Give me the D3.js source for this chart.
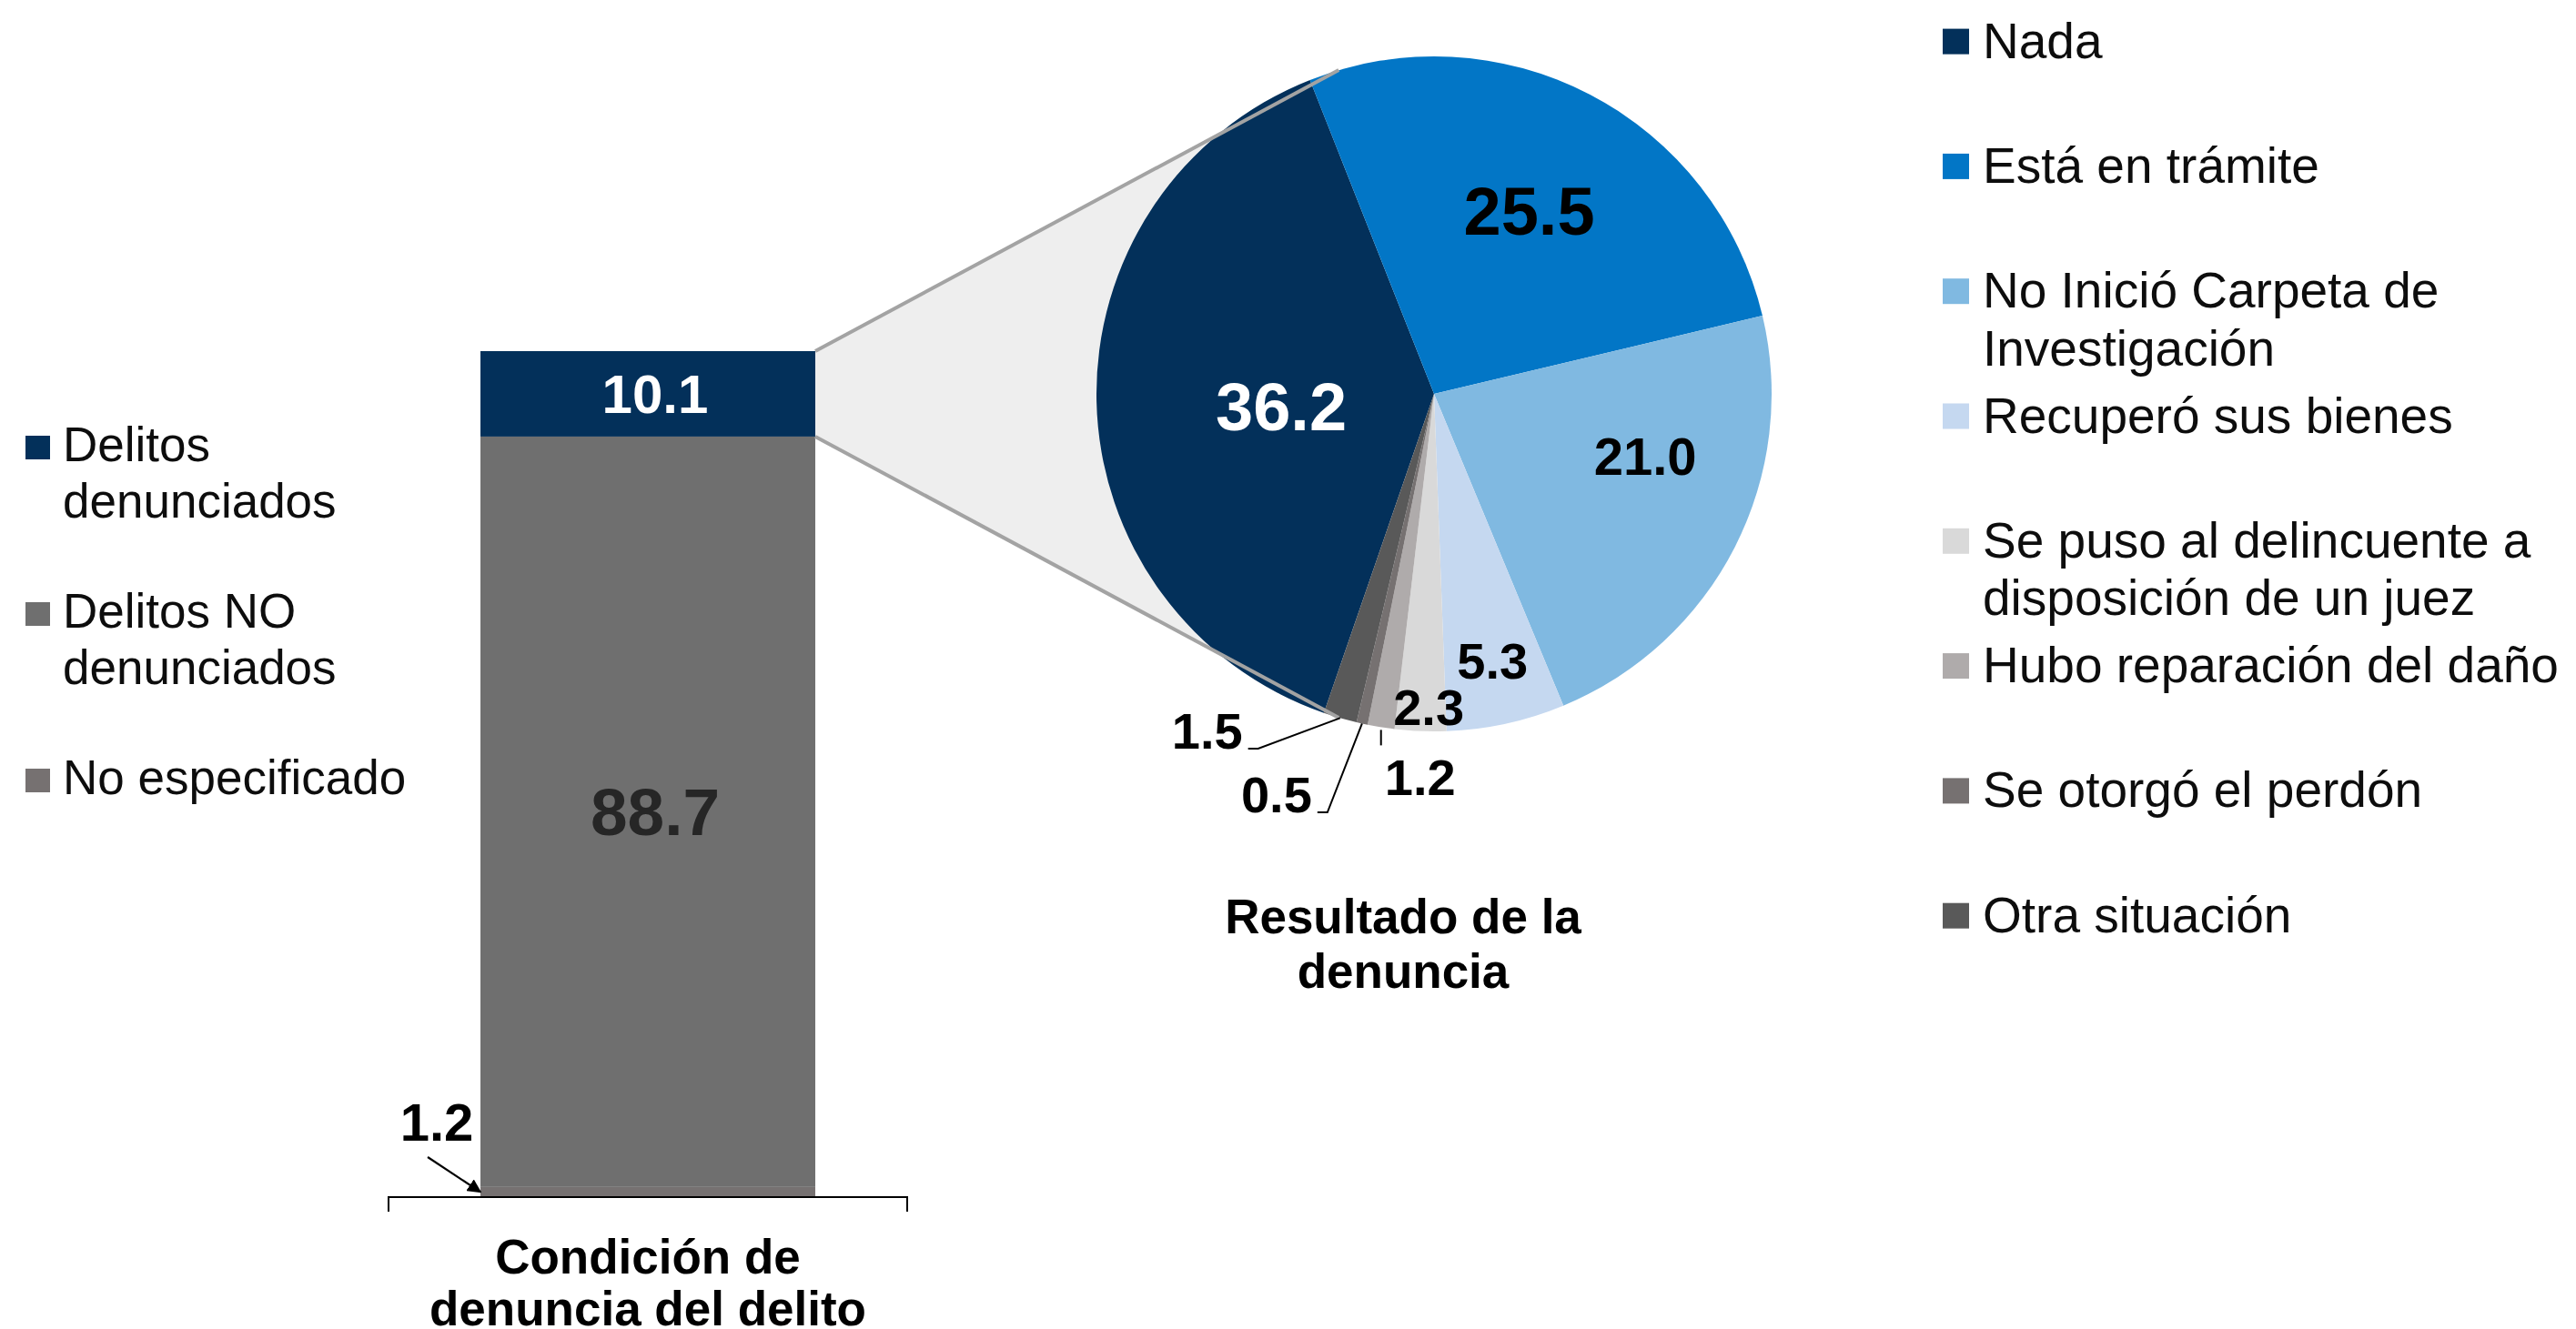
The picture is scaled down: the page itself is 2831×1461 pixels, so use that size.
<!DOCTYPE html>
<html>
<head>
<meta charset="utf-8">
<script src="https://cdn.jsdelivr.net/npm/d3@7"></script>
<style>
  body { margin: 0; background: #fff; }
  svg { display: block; font-family: "Liberation Sans", Arial, sans-serif; }
</style>
</head>
<body>
<svg id="chart" width="2831" height="1461"></svg>
<script>
// Bar: condición de denuncia del delito (top to bottom)
const barCategory = "Condición de denuncia del delito";
const barKeys = ["Delitos denunciados", "Delitos NO denunciados", "No especificado"];
const barValues = [10.1, 88.7, 1.2];
const barLegendLines = [["Delitos", "denunciados"], ["Delitos NO", "denunciados"], ["No especificado"]];
const barTitleLines = ["Condición de", "denuncia del delito"];

// Pie: resultado de la denuncia (clockwise)
const pieKeys = ["Nada", "Está en trámite", "No Inició Carpeta de Investigación", "Recuperó sus bienes",
  "Se puso al delincuente a disposición de un juez", "Hubo reparación del daño", "Se otorgó el perdón", "Otra situación"];
const pieValues = [36.2, 25.5, 21.0, 5.3, 2.3, 1.2, 0.5, 1.5];
const pieLegendLines = [["Nada"], ["Está en trámite"], ["No Inició Carpeta de", "Investigación"], ["Recuperó sus bienes"],
  ["Se puso al delincuente a", "disposición de un juez"], ["Hubo reparación del daño"], ["Se otorgó el perdón"], ["Otra situación"]];
const pieTitleLines = ["Resultado de la", "denuncia"];

// Colours
const barColors = ["#03305A", "#6F6F6F", "#767171"];
const pieColors = ["#03305A", "#0276C6", "#80B9E1", "#C5D8F0", "#D9D9D9", "#AFABAB", "#767171", "#595959"];

const svg = d3.select("#chart");

// ---------- bar ----------
const x = d3.scaleBand().domain([barCategory]).range([427, 997]).paddingInner(0.2154).paddingOuter(0.2154);
const y = d3.scaleLinear().domain([0, 100]).range([1316, 386]);

const row = { cat: barCategory };
barKeys.forEach((k, i) => row[k] = barValues[i]);
const stackKeys = barKeys.slice().reverse(); // bottom first
const series = d3.stack().keys(stackKeys)([row]);
const barColor = d3.scaleOrdinal().domain(barKeys).range(barColors);

// pie geometry
const cx = 1576, cy = 433, r = 371;
const startDeg = 199.05;
const pie = d3.pie().sort(null).value(d => d.value)
  .startAngle(startDeg * Math.PI / 180).endAngle(startDeg * Math.PI / 180 + 2 * Math.PI);
const pieData = pie(pieKeys.map((k, i) => ({ key: k, value: pieValues[i] })));
const arc = d3.arc().innerRadius(0).outerRadius(r);
const polar = (a, rad) => [cx + Math.sin(a) * rad, cy - Math.cos(a) * rad];

// connector area from the "denunciados" segment to the pie
const topSeg = series.find(s => s.key === barKeys[0])[0];
const bx = x(barCategory) + x.bandwidth();
const connAngle = 73.6 * Math.PI / 180;
const pTop = polar(1.5 * Math.PI + connAngle, r);
const pBot = polar(1.5 * Math.PI - connAngle, r);
svg.append("path")
  .attr("d", `M${bx},${y(topSeg[1])}L${pTop[0]},${pTop[1]}L${pBot[0]},${pBot[1]}L${bx},${y(topSeg[0])}Z`)
  .attr("fill", "#EEEEEE");

// bars
svg.append("g").selectAll("rect")
  .data(series)
  .join("rect")
  .attr("x", x(barCategory))
  .attr("width", x.bandwidth())
  .attr("y", d => y(d[0][1]))
  .attr("height", d => y(d[0][0]) - y(d[0][1]))
  .attr("fill", d => barColor(d.key));

// bar labels
const barMid = x(barCategory) + x.bandwidth() / 2;
const barLabelStyle = {
  "Delitos denunciados": { fill: "#fff", size: 60 },
  "Delitos NO denunciados": { fill: "#262626", size: 73 }
};
series.filter(s => barLabelStyle[s.key]).forEach(s => {
  const st = barLabelStyle[s.key];
  svg.append("text")
    .attr("x", barMid + 8)
    .attr("y", y((s[0][0] + s[0][1]) / 2))
    .attr("dy", "0.35em")
    .attr("text-anchor", "middle")
    .attr("font-weight", "bold")
    .attr("font-size", st.size)
    .attr("fill", st.fill)
    .text(s[0].data[s.key].toFixed(1));
});

// small "No especificado" label with arrow
const defs = svg.append("defs");
defs.append("marker").attr("id", "arrow").attr("viewBox", "0 0 10 10")
  .attr("refX", 9).attr("refY", 5).attr("markerWidth", 7).attr("markerHeight", 7)
  .attr("orient", "auto")
  .append("path").attr("d", "M0,0L10,5L0,10Z").attr("fill", "#000");
const botSeg = series.find(s => s.key === barKeys[2])[0];
const bLeft = x(barCategory);
svg.append("text")
  .attr("x", bLeft - 48).attr("y", y(0) - 82).attr("dy", "0.35em")
  .attr("text-anchor", "middle").attr("font-weight", "bold").attr("font-size", 58)
  .text(botSeg.data[barKeys[2]].toFixed(1));
svg.append("line")
  .attr("x1", bLeft - 58).attr("y1", y(0) - 44)
  .attr("x2", bLeft).attr("y2", y((botSeg[0] + botSeg[1]) / 2))
  .attr("stroke", "#000").attr("stroke-width", 2.2)
  .attr("marker-end", "url(#arrow)");

// category axis bracket
const [ax0, ax1] = x.range();
svg.append("path")
  .attr("d", `M${ax0},${y(0) + 16}V${y(0)}H${ax1}V${y(0) + 16}`)
  .attr("fill", "none").attr("stroke", "#000").attr("stroke-width", 2);

// bar title
barTitleLines.forEach((t, i) => {
  svg.append("text")
    .attr("x", barMid).attr("y", 1400 + i * 57)
    .attr("text-anchor", "middle").attr("font-weight", "bold").attr("font-size", 53)
    .text(t);
});

// bar legend
const lg = svg.append("g");
barKeys.forEach((k, i) => {
  const base = 507 + i * 183;
  lg.append("rect").attr("x", 28).attr("y", base - 28).attr("width", 27).attr("height", 26)
    .attr("fill", barColor(k));
  barLegendLines[i].forEach((t, j) => {
    lg.append("text").attr("x", 69).attr("y", base + j * 61.6)
      .attr("font-size", 53).attr("fill", "#0D0D0D").text(t);
  });
});

// ---------- pie ----------
const pieColor = d3.scaleOrdinal().domain(pieKeys).range(pieColors);
svg.append("g").attr("transform", `translate(${cx},${cy})`)
  .selectAll("path")
  .data(pieData)
  .join("path")
  .attr("d", arc)
  .attr("fill", d => pieColor(d.data.key));

// connector lines drawn over the pie edge
[[y(topSeg[1]), pTop], [y(topSeg[0]), pBot]].forEach(([yy, p]) => {
  svg.append("line").attr("x1", bx).attr("y1", yy).attr("x2", p[0]).attr("y2", p[1])
    .attr("stroke", "#A3A3A3").attr("stroke-width", 4);
});

const pieLabelLayout = {
  "Nada": { k: 0.45, dx: -1, dy: 10, size: 74, fill: "#fff" },
  "Está en trámite": { k: 0.61, dx: 0, dy: 0, size: 74 },
  "No Inició Carpeta de Investigación": { k: 0.66, dx: 14, dy: -43, size: 58 },
  "Recuperó sus bienes": { k: 0.81, dx: 0, dy: 0, size: 56 },
  "Se puso al delincuente a disposición de un juez": { k: 0.93, dx: 8, dy: 0, size: 56 },
  "Hubo reparación del daño": { k: 1, dx: 43, dy: 55, size: 56, leader: "down" },
  "Se otorgó el perdón": { k: 1, dx: -94, dy: 78, size: 56, leader: "left" },
  "Otra situación": { k: 1, dx: -146, dy: 14, size: 56, leader: "left" }
};

pieData.forEach(d => {
  const L = pieLabelLayout[d.data.key];
  const mid = (d.startAngle + d.endAngle) / 2;
  const p = polar(mid, L.k * r);
  const tx = p[0] + L.dx, ty = p[1] + L.dy;
  const txt = svg.append("text")
    .attr("x", tx).attr("y", ty).attr("dy", "0.35em")
    .attr("text-anchor", "middle").attr("font-weight", "bold")
    .attr("font-size", L.size).attr("fill", L.fill || "#000")
    .text(d.data.value.toFixed(1));
  if (L.leader) {
    const edge = polar(mid, r);
    const w = txt.node().getComputedTextLength();
    let pts;
    if (L.leader === "down") {
      pts = [[edge[0], edge[1] + 3], [edge[0], ty - 35]];
    } else {
      const right = tx + w / 2, base = ty + 0.35 * L.size;
      pts = [edge, [right + 17, base], [right + 6, base]];
    }
    svg.append("path").attr("d", d3.line()(pts))
      .attr("fill", "none").attr("stroke", "#000").attr("stroke-width", 2);
  }
});

// pie title
pieTitleLines.forEach((t, i) => {
  svg.append("text")
    .attr("x", cx - 34).attr("y", 1026 + i * 60)
    .attr("text-anchor", "middle").attr("font-weight", "bold").attr("font-size", 53)
    .text(t);
});

// pie legend
const rg = svg.append("g");
pieKeys.forEach((k, i) => {
  const base = 63.6 + i * 137.3;
  rg.append("rect").attr("x", 2135).attr("y", base - 32).attr("width", 29).attr("height", 28)
    .attr("fill", pieColor(k));
  pieLegendLines[i].forEach((t, j) => {
    rg.append("text").attr("x", 2179).attr("y", base + j * 63.5)
      .attr("font-size", 55).attr("fill", "#0D0D0D").text(t);
  });
});
</script>
</body>
</html>
